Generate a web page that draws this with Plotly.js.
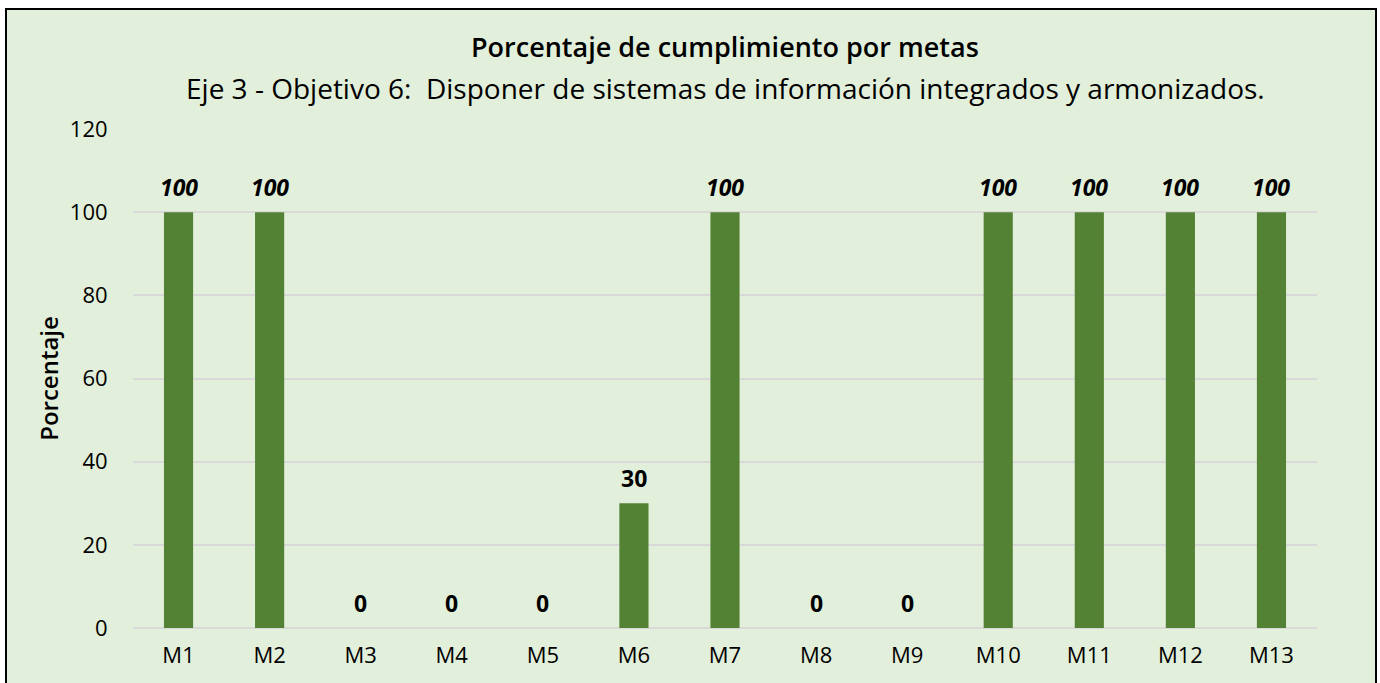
<!DOCTYPE html>
<html>
<head>
<meta charset="utf-8">
<script src="https://cdn.plot.ly/plotly-3.0.1.min.js"></script>
<style>
  html, body { margin: 0; padding: 0; background: #ffffff; overflow: hidden; }
  #frame { position: absolute; left: 5px; top: 8px; width: 1368px; height: 700px;
           border: 2px solid #000; background: #E2EFDA; }
  #chart { position: absolute; left: 0; top: 0; width: 1380px; height: 683px; }
</style>
</head>
<body>
<div id="frame"></div>
<div id="chart"></div>
<script>
const categories = ["M1","M2","M3","M4","M5","M6","M7","M8","M9","M10","M11","M12","M13"];
const values = [100,100,0,0,0,30,100,0,0,100,100,100,100];
const yTicks = [0,20,40,60,80,100,120];
const titleText = "Porcentaje de cumplimiento por metas";
const subtitleText = "Eje 3 - Objetivo 6:  Disponer de sistemas de información integrados y armonizados.";
const yTitle = "Porcentaje";

const FONT = "'Open Sans', Lato, sans-serif";

const trace = {
  type: "bar",
  x: categories,
  y: values,
  marker: { color: "#548235" },
  hoverinfo: "x+y"
};

const annotations = categories.map((c, i) => ({
  x: c, y: values[i], xref: "x", yref: "y",
  text: values[i] === 100 ? "<b><i>" + values[i] + "</i></b>" : "<b>" + values[i] + "</b>",
  showarrow: false, yanchor: "middle", yshift: 25,
  font: { family: FONT, size: 23, color: "#000" }
}));

annotations.push({
  xref: "paper", yref: "paper", x: 0.5, y: 1, yanchor: "middle", yshift: 83,
  text: titleText, showarrow: false,
  font: { family: FONT, size: 27, color: "#000", weight: 600 }
});
annotations.push({
  xref: "paper", yref: "paper", x: 0.5, y: 1, yanchor: "middle", yshift: 41,
  text: subtitleText, showarrow: false,
  font: { family: FONT, size: 28, color: "#000" }
});

const layout = {
  width: 1380, height: 683,
  paper_bgcolor: "rgba(0,0,0,0)",
  plot_bgcolor: "rgba(0,0,0,0)",
  margin: { l: 133, r: 63, t: 129, b: 55, pad: 0 },
  bargap: 0.68,
  showlegend: false,
  font: { family: FONT, color: "#000" },
  xaxis: {
    type: "category",
    tickfont: { family: FONT, size: 22, color: "#000" },
    ticks: "outside", ticklen: 8, tickcolor: "rgba(0,0,0,0)",
    showline: false, showgrid: false, zeroline: false
  },
  yaxis: {
    range: [0, 120],
    tickvals: yTicks,
    tickfont: { family: FONT, size: 22, color: "#000" },
    ticks: "outside", ticklen: 20, tickcolor: "rgba(0,0,0,0)",
    showgrid: true, gridcolor: "#D9D9D9", gridwidth: 2,
    zeroline: true, zerolinecolor: "#D9D9D9", zerolinewidth: 2,
    showline: false,
    title: { text: yTitle, standoff: 4, font: { family: FONT, size: 24, color: "#000", weight: 600 } }
  },
  annotations: annotations
};

Plotly.newPlot("chart", [trace], layout, { displayModeBar: false });
</script>
</body>
</html>
